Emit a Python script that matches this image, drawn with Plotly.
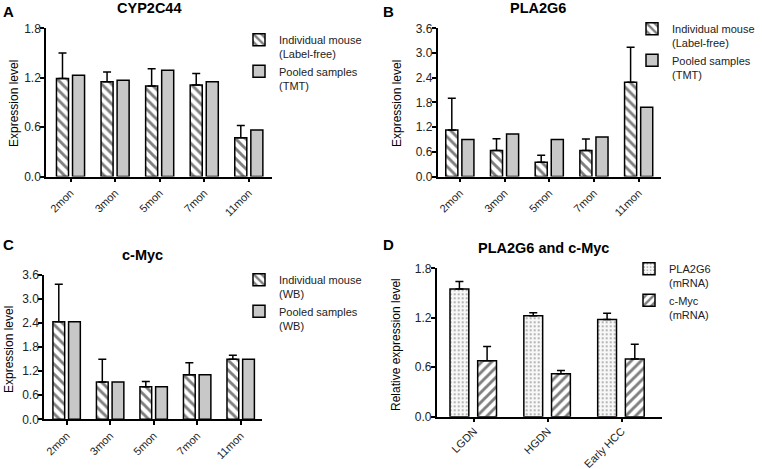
import plotly.graph_objects as go

months = ["2mon", "3mon", "5mon", "7mon", "11mon"]
stages = ["LGDN", "HGDN", "Early HCC"]

# Panel A - CYP2C44
a_ind = [1.19, 1.15, 1.10, 1.11, 0.47]
a_ind_top = [1.50, 1.27, 1.31, 1.25, 0.62]
a_pool = [1.23, 1.17, 1.29, 1.15, 0.565]

# Panel B - PLA2G6
b_ind = [1.13, 0.63, 0.345, 0.63, 2.29]
b_ind_top = [1.90, 0.915, 0.515, 0.91, 3.14]
b_pool = [0.90, 1.03, 0.90, 0.96, 1.68]

# Panel C - c-Myc
c_ind = [2.435, 0.93, 0.81, 1.11, 1.50]
c_ind_top = [3.37, 1.50, 0.94, 1.41, 1.60]
c_pool = [2.435, 0.93, 0.81, 1.11, 1.50]

# Panel D - PLA2G6 and c-Myc mRNA
d_pla = [1.55, 1.225, 1.18]
d_pla_top = [1.64, 1.26, 1.255]
d_myc = [0.68, 0.52, 0.70]
d_myc_top = [0.85, 0.56, 0.88]

W, H = 762, 469
FONT = "Liberation Sans, Arial, sans-serif"

fig = go.Figure()

def plus(vals, tops):
    return [t - v for v, t in zip(vals, tops)]

def add_bar(x, y, tops, ax, legend, name, pattern, color, offset, width):
    err = None
    if tops is not None:
        err = dict(type="data", symmetric=False, array=plus(y, tops),
                   arrayminus=[0] * len(y), color="black", thickness=1.5, width=4)
    fig.add_trace(go.Bar(
        x=x, y=y, name=name, xaxis="x" + ax, yaxis="y" + ax, legend=legend,
        offset=offset, width=width, error_y=err,
        marker=dict(color=color, line=dict(color="black", width=1.5),
                    pattern=pattern),
    ))

hatch_b = dict(shape="\\", fgcolor="black", bgcolor="white", size=7, solidity=0.42)
hatch_f = dict(shape="/", fgcolor="black", bgcolor="white", size=7, solidity=0.42)
dots = dict(shape=".", fgcolor="#444444", bgcolor="#f8f8f8", size=4, solidity=0.2)
nopat = dict(shape="")

W1, O1, O2 = 0.27, -0.315, 0.045

add_bar(months, a_ind, a_ind_top, "", "legend", "Individual mouse<br>(Label-free)", hatch_b, "white", O1, W1)
add_bar(months, a_pool, None, "", "legend", "Pooled samples<br>(TMT)", nopat, "#c8c8c8", O2, W1)
add_bar(months, b_ind, b_ind_top, "2", "legend2", "Individual mouse<br>(Label-free)", hatch_b, "white", O1, W1)
add_bar(months, b_pool, None, "2", "legend2", "Pooled samples<br>(TMT)", nopat, "#c8c8c8", O2, W1)
add_bar(months, c_ind, c_ind_top, "3", "legend3", "Individual mouse<br>(WB)", hatch_b, "white", O1, W1)
add_bar(months, c_pool, None, "3", "legend3", "Pooled samples<br>(WB)", nopat, "#c8c8c8", O2, W1)
add_bar(stages, d_pla, d_pla_top, "4", "legend4", "PLA2G6<br>(mRNA)", dots, "#f8f8f8", -0.325, 0.255)
add_bar(stages, d_myc, d_myc_top, "4", "legend4", "c-Myc<br>(mRNA)", hatch_f, "white", 0.05, 0.255)

def xax(x0, x1, anchor, rng, standoff=0):
    return dict(domain=[x0 / W, x1 / W], anchor=anchor, range=rng, type="category",
                showline=True, linecolor="black", linewidth=1.5, ticks="outside",
                ticklen=4, tickwidth=1.5, tickcolor="black", showgrid=False,
                zeroline=False, tickangle=-45, ticklabelshift=0, ticklabelstandoff=standoff,
                automargin=False,
                tickfont=dict(family=FONT, size=11, color="#222"))

def yax(y_bottom, y_top, anchor, vals):
    return dict(domain=[1 - y_bottom / H, 1 - y_top / H], anchor=anchor,
                range=[0, vals[-1]], tickvals=vals, tickformat=".1f",
                showline=True, linecolor="black", linewidth=1.5, ticks="outside",
                ticklen=4, tickwidth=1.5, tickcolor="black", showgrid=False,
                zeroline=False, automargin=False, ticklabelstandoff=-3,
                tickfont=dict(family=FONT, size=12, color="#222"))

t18 = [0, 0.6, 1.2, 1.8]
t36 = [0, 0.6, 1.2, 1.8, 2.4, 3.0, 3.6]

leg_common = dict(bgcolor="rgba(0,0,0,0)", font=dict(family=FONT, size=11, color="#222"),
                  xanchor="left", yanchor="top", valign="top", itemclick=False,
                  tracegroupgap=5)

def leg(xpx, ypx):
    d = dict(leg_common)
    d.update(x=xpx / W, y=1 - ypx / H)
    return d

annotations = []
def ann(text, x, y, size, bold=True, angle=0):
    annotations.append(dict(text=f"<b>{text}</b>" if bold else text, x=x / W, y=1 - y / H,
                            xref="paper", yref="paper", showarrow=False,
                            textangle=angle, xanchor="center", yanchor="middle",
                            font=dict(family=FONT, size=size, color="black")))

ann("A", 8, 11, 15)
ann("B", 388, 11, 15)
ann("C", 8, 244, 15)
ann("D", 388, 244, 15)
ann("CYP2C44", 149, 8, 14.5)
ann("PLA2G6", 538, 8, 14.5)
ann("c-Myc", 142, 255, 14.5)
ann("PLA2G6 and c-Myc", 543, 248, 14.5)
ann("Expression level", 14, 104, 12, bold=False, angle=-90)
ann("Expression level", 397, 104, 12, bold=False, angle=-90)
ann("Expression level", 9, 350, 12, bold=False, angle=-90)
ann("Relative expression level", 396, 345, 12, bold=False, angle=-90)

fig.update_layout(
    width=W, height=H, margin=dict(l=0, r=0, t=0, b=0, autoexpand=False),
    paper_bgcolor="white", plot_bgcolor="white",
    barmode="overlay", showlegend=True,
    font=dict(family=FONT, color="#222"),
    xaxis=xax(46, 272, "y", [-0.55, 4.52]),
    yaxis=yax(176.5, 28.3, "x", t18),
    xaxis2=xax(437.5, 661, "y2", [-0.5, 4.5]),
    yaxis2=yax(176.5, 28.3, "x2", t36),
    xaxis3=xax(44, 262, "y3", [-0.52, 4.49]),
    yaxis3=yax(419.3, 275, "x3", t36),
    xaxis4=xax(436.7, 662, "y4", [-0.505, 2.546], standoff=-2),
    yaxis4=yax(416.7, 268.3, "x4", t18),
    legend=leg(239, 26),
    legend2=leg(632, 15),
    legend3=leg(239, 266),
    legend4=leg(629, 255),
    annotations=annotations,
)

fig.write_html("out.html", config={"displayModeBar": False},
               post_script="document.body.style.margin='0px';document.body.style.overflow='hidden';")
